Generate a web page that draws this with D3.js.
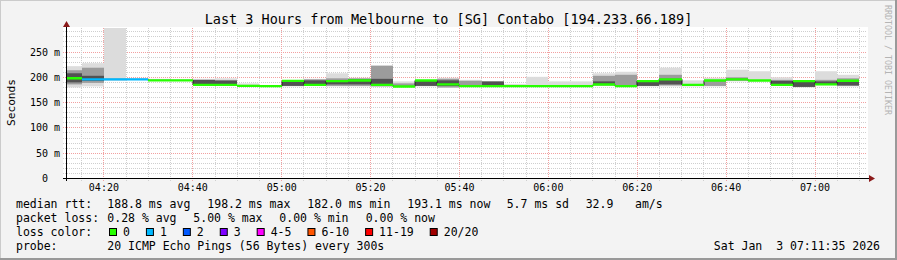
<!DOCTYPE html>
<html lang="en">
<head>
  <meta charset="UTF-8">
  <title>Smokeping - Melbourne to [SG] Contabo</title>
  <script src="https://d3js.org/d3.v7.min.js"></script>
  <style>
    html, body { margin: 0; padding: 0; background: #f3f3f3; }
    svg text { font-family: "DejaVu Sans Mono", monospace; white-space: pre; }
  </style>
</head>
<body>
  <svg id="chart" width="897" height="260"></svg>

  <script>
    // 5 minute bins (start time of each step)
    const binStart = ["04:10", "04:15", "04:20", "04:25", "04:30", "04:35", "04:40", "04:45", "04:50", "04:55",
      "05:00", "05:05", "05:10", "05:15", "05:20", "05:25", "05:30", "05:35", "05:40", "05:45",
      "05:50", "05:55", "06:00", "06:05", "06:10", "06:15", "06:20", "06:25", "06:30", "06:35",
      "06:40", "06:45", "06:50", "06:55", "07:00", "07:05"];

    // median rtt in ms
    const median = [198.2, 196, 196, 196, 194, 194, 185, 185, 183, 182.5,
      193, 185, 192.5, 193.7, 185, 182.0, 193.7, 186, 182.5, 182.5,
      182.5, 182.5, 182.5, 182.5, 185.7, 182.5, 192.5, 196, 185, 193.7,
      196, 193.7, 185, 192.5, 186, 193.1];

    // lost pings out of 20
    const lossCount = [0, 1, 1, 1, 0, 0, 0, 0, 0, 0,
      0, 0, 0, 0, 0, 0, 0, 0, 0, 0,
      0, 0, 0, 0, 0, 0, 0, 0, 0, 0,
      0, 0, 0, 0, 0, 0];

    // smoke: outer (all pings), middle and inner ping ranges in ms
    const outerLo = [180, 182, 193, null, 193, null, 184, 184, 183, null,
      182, 184, 182, 182, 182, 182, 182, 179, 183, 183,
      182, 183, 183, 183, 184, 182, 182, 182, 182, 182,
      192, 193, 183, 180, 184, 182];
    const outerHi = [222, 228, 300, null, 197, null, 197, 198, 188, null,
      194, 197, 208, 199, 223, 192, 194, 199, 195, 192,
      187, 201, 192, 192, 208, 211, 192, 219, 194, 199,
      215, 212, 200, 192, 212, 205];
    const midLo = [186, 189, null, null, null, null, null, null, null, null,
      null, 184, 183, 183, 182, 183, null, 180, 184, null,
      null, null, null, null, 184, 183, null, 184, null, 183,
      193, null, 183, null, 186, 183];
    const midHi = [214, 219, null, null, null, null, null, null, null, null,
      null, 196, 198, 198, 223, 188, null, 197, 193, null,
      null, null, null, null, 203, 205, null, 205, null, 195,
      200, null, 195, null, 195, 198];
    const innerLo = [190, 193, null, null, null, null, 185, 185, null, null,
      183, 185, 186, 186, 187, null, 183, 183, null, 184,
      null, null, null, null, 185, null, 183, 186, null, null,
      null, null, 184, 181, 185, 184];
    const innerHi = [208, 203, null, null, null, null, 195, 194, null, null,
      192, 194, 194, 196, 197, null, 193, 194, null, 192,
      null, null, null, null, 192, null, 192, 196, null, null,
      null, null, 193, 192, 192, 194];

    const yTickValues = [0, 50, 100, 150, 200, 250];
    const yTickLabels = ["0  ", "50 m", "100 m", "150 m", "200 m", "250 m"];

    const lossLegend = ["0", "1", "2", "3", "4-5", "6-10", "11-19", "20/20"];
    const lossColors = ["#26ff00", "#00b8ff", "#0059ff", "#7e00ff", "#ff00ff", "#ff5500", "#ff0000", "#a10000"];

    const title = "Last 3 Hours from Melbourne to [SG] Contabo [194.233.66.189]";
    const stampText = "Sat Jan  3 07:11:35 2026";

    const parse = d3.timeParse("%Y-%m-%d %H:%M:%S");
    const day = "2026-01-03 ";
    const tStart = parse(day + "04:11:35");
    const tEnd = parse(day + "07:11:35");

    const bins = binStart.map((s, i) => {
      const t0 = parse(day + s + ":00");
      return {
        t0: t0,
        t1: d3.timeMinute.offset(t0, 5),
        median: median[i],
        loss: lossCount[i],
        bands: [
          [outerLo[i], outerHi[i], "#dcdcdc"],
          [midLo[i], midHi[i], "#9c9c9c"],
          [innerLo[i], innerHi[i], "#525252"]
        ]
      };
    });

    function lossColor(n) {
      if (n <= 3) return lossColors[n];
      if (n <= 5) return lossColors[4];
      if (n <= 10) return lossColors[5];
      if (n <= 19) return lossColors[6];
      return lossColors[7];
    }

    const svg = d3.select("#chart");
    const W = 897, H = 260;

    // background + rrdtool style frame
    svg.append("rect").attr("width", W).attr("height", H).attr("fill", "#f3f3f3");
    svg.append("path").attr("d", `M0,${H} V0 H${W}`).attr("stroke", "#cbcbcb").attr("stroke-width", 2).attr("fill", "none");
    svg.append("path").attr("d", `M0,${H - 1} H${W - 1} V0`).attr("stroke", "#999", "").attr("stroke-width", 2).attr("fill", "none");

    const x = d3.scaleTime().domain([tStart, tEnd]).range([66.5, 866.5]);
    const y = d3.scaleLinear().domain([0, 296.5]).range([178.5, 28.5]);

    // plot canvas
    svg.append("rect").attr("x", 63).attr("y", 27).attr("width", 805).attr("height", 152).attr("fill", "#fff");

    svg.append("defs").append("clipPath").attr("id", "plotclip")
      .append("rect").attr("x", 66.5).attr("y", 28).attr("width", 800).attr("height", 150.5);

    // grid
    const grid = svg.append("g");
    const minorT = x.ticks(d3.timeMinute.every(5));
    const majorT = x.ticks(d3.timeMinute.every(20));
    const isMajorT = t => t.getMinutes() % 20 === 0;

    d3.range(10, 296, 10).forEach(v => {
      const major = v % 50 === 0;
      const yy = Math.round(y(v) - 0.5) + 0.5;
      grid.append("line").attr("x1", 63).attr("x2", 867).attr("y1", yy).attr("y2", yy)
        .attr("stroke", major ? "#f2a0a0" : "#cfcfcf").attr("stroke-dasharray", "1,1");
    });
    minorT.forEach(t => {
      const xx = Math.round(x(t) - 0.5) + 0.5;
      grid.append("line").attr("x1", xx).attr("x2", xx).attr("y1", 28).attr("y2", 181)
        .attr("stroke", isMajorT(t) ? "#f2a0a0" : "#cfcfcf").attr("stroke-dasharray", "1,1");
    });

    // smoke
    const smoke = svg.append("g").attr("clip-path", "url(#plotclip)");
    bins.forEach(b => {
      b.bands.forEach(([lo, hi, col]) => {
        if (lo == null || hi == null) return;
        const x0 = Math.round(x(b.t0)), x1 = Math.round(x(b.t1));
        smoke.append("rect")
          .attr("x", x0).attr("width", x1 - x0)
          .attr("y", y(hi)).attr("height", y(lo) - y(hi))
          .attr("fill", col);
      });
    });

    // median: dark step line, then loss coloured segments
    const medPts = bins.map(b => [b.t0, b.median]);
    medPts.push([bins[bins.length - 1].t1, bins[bins.length - 1].median]);
    const medLine = d3.line().x(d => Math.round(x(d[0]))).y(d => y(d[1])).curve(d3.curveStepAfter);
    const medG = svg.append("g").attr("clip-path", "url(#plotclip)");
    medG.append("path").attr("d", medLine(medPts)).attr("fill", "none")
      .attr("stroke", "#202020").attr("stroke-width", 1);
    medG.selectAll("line.med").data(bins).join("line")
      .attr("class", "med")
      .attr("x1", d => Math.round(x(d.t0))).attr("x2", d => Math.round(x(d.t1)))
      .attr("y1", d => y(d.median)).attr("y2", d => y(d.median))
      .attr("stroke", d => lossColor(d.loss)).attr("stroke-width", 2.4);

    // axes
    const axisY0 = 178.5, axisX0 = 66.5;
    svg.append("line").attr("x1", 63).attr("x2", 870).attr("y1", axisY0).attr("y2", axisY0).attr("stroke", "#000");
    svg.append("line").attr("x1", axisX0).attr("x2", axisX0).attr("y1", 181).attr("y2", 24).attr("stroke", "#000");
    svg.append("path").attr("d", `M869,${axisY0 - 3.5} L875,${axisY0} L869,${axisY0 + 3.5} Z`).attr("fill", "#8b1a1a");
    svg.append("path").attr("d", `M${axisX0 - 3.5},27 L${axisX0},21 L${axisX0 + 3.5},27 Z`).attr("fill", "#8b1a1a");

    // x tick labels
    svg.append("g").selectAll("text").data(majorT).join("text")
      .attr("x", d => x(d)).attr("y", 191)
      .attr("text-anchor", "middle").attr("font-size", "10px").attr("fill", "#000")
      .text(d3.timeFormat("%H:%M"));

    // y tick labels
    svg.append("g").selectAll("text").data(yTickValues).join("text")
      .attr("x", 60).attr("y", d => y(d) + 3.5)
      .attr("text-anchor", "end").attr("font-size", "10px").attr("fill", "#000")
      .text((d, i) => yTickLabels[i]);

    svg.append("text")
      .attr("transform", "translate(15,102.5) rotate(-90)")
      .attr("text-anchor", "middle").attr("font-size", "11.2px").attr("fill", "#000")
      .text("Seconds");

    // title
    svg.append("text").attr("x", 448.5).attr("y", 24)
      .attr("text-anchor", "middle").attr("font-size", "13.5px").attr("fill", "#000")
      .text(title);

    // watermark
    svg.append("text").attr("transform", "translate(885,60) rotate(90)")
      .attr("text-anchor", "middle").attr("font-size", "8.3px").attr("fill", "#b4b4b4")
      .text("RRDTOOL / TOBI OETIKER");

    // legend
    const lg = svg.append("g").attr("font-size", "11.5px").attr("fill", "#000");
    const put = (tx, xx, yy, anchor) => lg.append("text").attr("x", xx).attr("y", yy)
      .attr("text-anchor", anchor || "start").text(tx);

    put("median rtt:", 16, 207.5);
    put("188.8 ms avg", 107.3, 207.5);
    put("198.2 ms max", 207.3, 207.5);
    put("182.0 ms min", 307.3, 207.5);
    put("193.1 ms now", 407.3, 207.5);
    put("5.7 ms sd", 506.7, 207.5);
    put("32.9", 585.7, 207.5);
    put("am/s", 635, 207.5);

    put("packet loss:", 16, 221.5);
    put("0.28 % avg", 107.3, 221.5);
    put("5.00 % max", 193.3, 221.5);
    put("0.00 % min", 279.3, 221.5);
    put("0.00 % now", 365.7, 221.5);

    put("loss color:", 16, 235.5);
    let lx = 109;
    lossLegend.forEach((lab, i) => {
      lg.append("rect").attr("x", lx + 0.5).attr("y", 228.5).attr("width", 7).attr("height", 7)
        .attr("fill", lossColors[i]).attr("stroke", "#000").attr("stroke-width", 1);
      put(lab, lx + 14, 235.5);
      lx += 30 + 6.92 * lab.length;
    });

    put("probe:", 16, 249.5);
    put("20 ICMP Echo Pings (56 Bytes) every 300s", 107.3, 249.5);
    put(stampText, 880, 249.5, "end");
  </script>
</body>
</html>
